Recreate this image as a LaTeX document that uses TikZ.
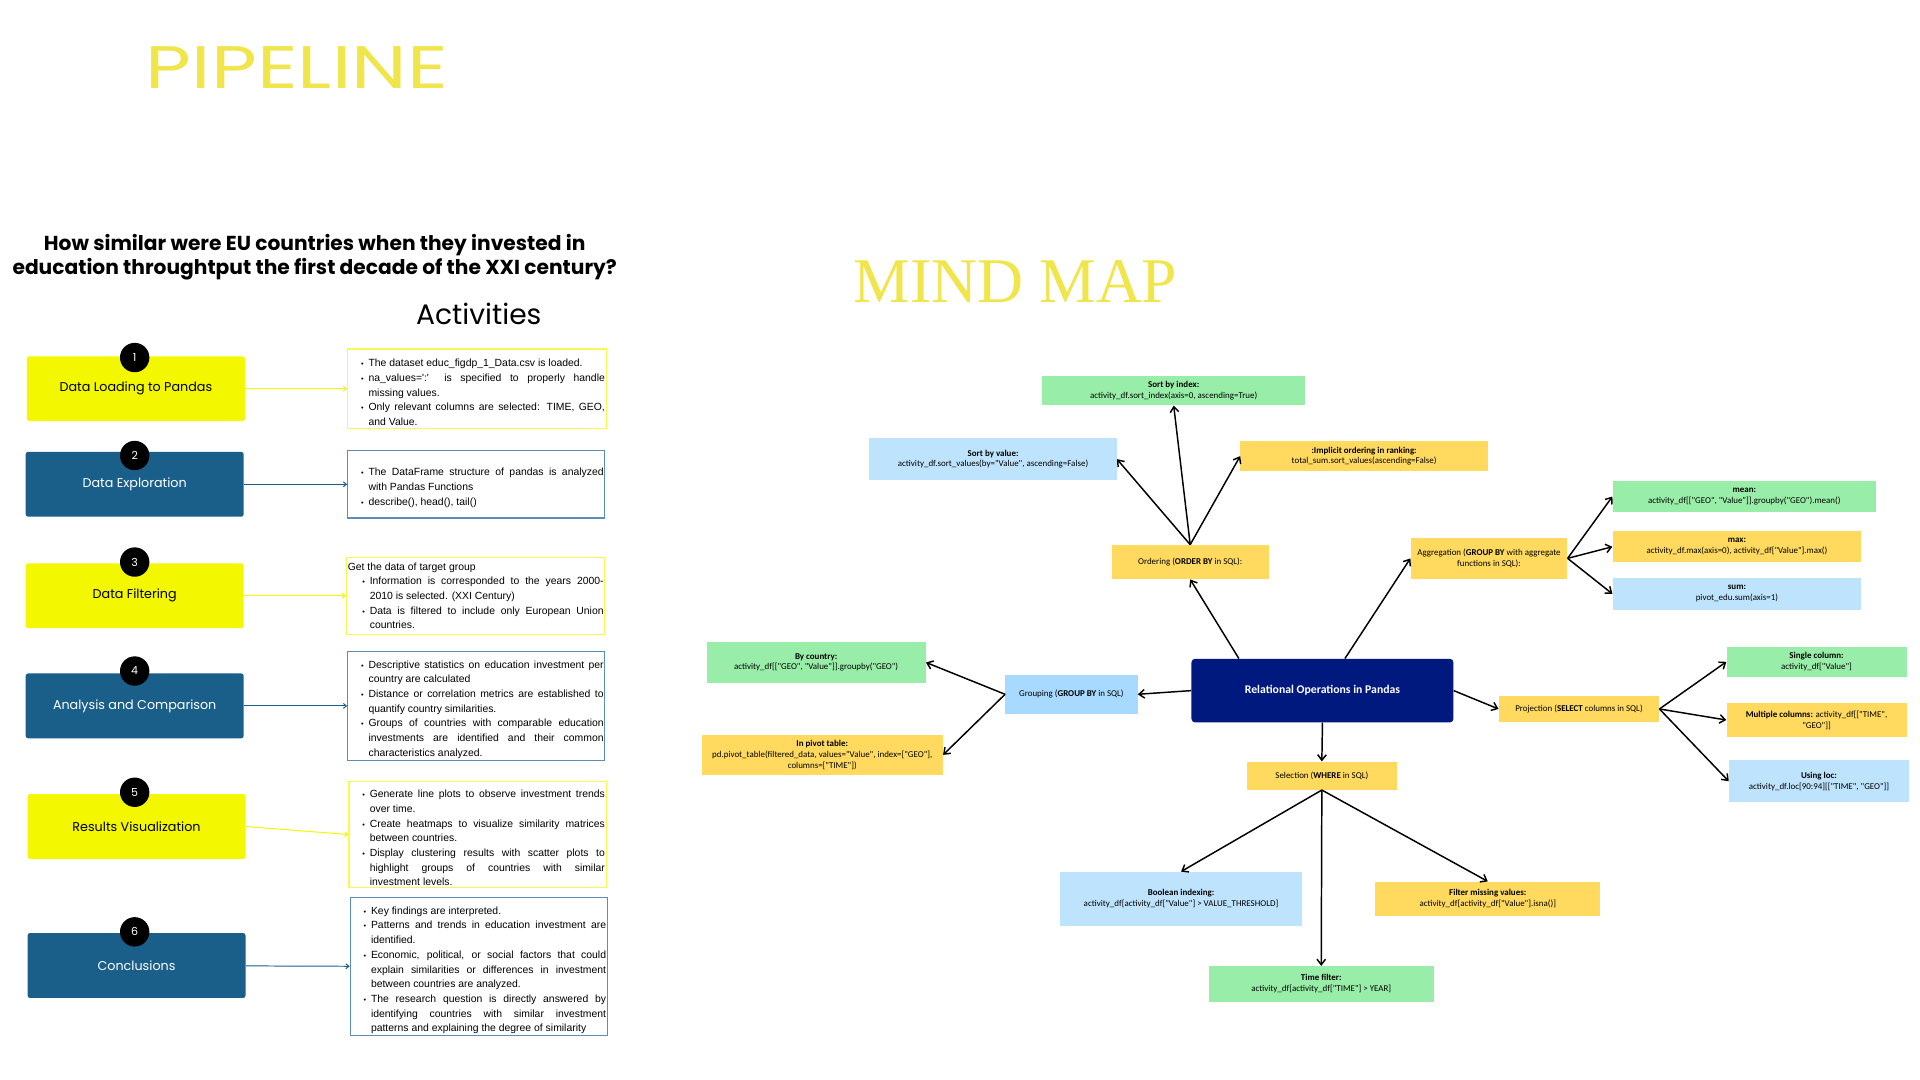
\documentclass[tikz,border=0pt]{standalone}
\usepackage{fontspec}
\setmainfont{Liberation Sans}
\newfontfamily\popfont{Poppins}
\newfontfamily\mapfont{Carlito}
\newfontfamily\headfont{Liberation Serif}
\usetikzlibrary{arrows.meta}
\definecolor{stepyel}{HTML}{F3F700}
\definecolor{stepblu}{HTML}{1A5F8A}
\definecolor{titleyel}{HTML}{F0E54A}
\definecolor{descyel}{HTML}{F8F850}
\definecolor{descblu}{HTML}{5A8DB8}
\definecolor{mapgreen}{HTML}{98EEA8}
\definecolor{mapblue}{HTML}{BEE3FC}
\definecolor{grpblue}{HTML}{A8D9FF}
\definecolor{mapyel}{HTML}{FFDA5E}
\definecolor{relnavy}{HTML}{00197F}
\newcommand{\itm}{\par\hangindent=6pt\hangafter=1\noindent\makebox[6pt][l]{\fontsize{6}{6}\selectfont\textbullet}}

\begin{document}
\begin{tikzpicture}[x=1pt, y=-1pt, >={Straight Barb[length=4.5pt,width=7pt]},
	stepyellow/.style={fill=stepyel, rounded corners=2pt, minimum width=178pt, minimum height=53pt, font=\popfont\fontsize{10.4}{12}\selectfont},
	stepblue/.style={fill=stepblu, text=white, rounded corners=2pt, minimum width=178pt, minimum height=53pt, font=\popfont\fontsize{10.4}{12}\selectfont},
	numdot/.style={circle, fill=black, text=white, minimum size=24pt, inner sep=0pt, font=\popfont\fontsize{9}{9}\selectfont},
	descyellow/.style={draw=descyel, line width=0.9pt, inner xsep=1pt, inner ysep=0pt, align=justify, font=\fontsize{8.5}{12}\selectfont},
	descblue/.style={draw=descblu, line width=0.9pt, inner xsep=1pt, inner ysep=0pt, align=justify, font=\fontsize{8.5}{12}\selectfont},
	pipeyel/.style={-{Straight Barb[length=2.5pt,width=4pt]}, draw=stepyel, line width=0.8pt},
	pipeblu/.style={-{Straight Barb[length=2.5pt,width=4pt]}, draw=stepblu, line width=0.8pt},
	mapbox/.style={inner sep=0pt, align=center, font=\mapfont\fontsize{7.3}{8.8}\selectfont},
	mapgreen/.style={mapbox, fill=mapgreen},
	mapblue/.style={mapbox, fill=mapblue},
	mapyellow/.style={mapbox, fill=mapyel},
	maparrow/.style={->, line width=1.2pt}]
	\fill[white] (0,0) rectangle (1568,882);
	
	\node[anchor=base west, inner sep=0pt, text=titleyel, font=\popfont\fontsize{49}{49}\selectfont] (pipe) at (119,72) {\scalebox{1.32}[1]{PIPELINE}};
	\node[anchor=base west, inner sep=0pt, text=titleyel, font=\headfont\fontsize{52}{52}\selectfont] (mind) at (697,247) {MIND MAP};
	\node[align=center, font=\popfont\bfseries\fontsize{16.5}{19.5}\selectfont] (quest) at (257,210) {How similar were EU countries when they invested in\\education throughtput the first decade of the XXI century?};
	\node[anchor=base, inner sep=0pt, font=\popfont\fontsize{23}{23}\selectfont] (act) at (391,265) {Activities};
	
	\node[stepyellow] (s1) at (111,317.5) {Data Loading to Pandas};
	\node[numdot] (n1) at (110,292) {1};
	\node[stepblue] (s2) at (110,395.5) {Data Exploration};
	\node[numdot] (n2) at (110,372) {2};
	\node[stepyellow] (s3) at (110,486.5) {Data Filtering};
	\node[numdot] (n3) at (110,459) {3};
	\node[stepblue] (s4) at (110,576.5) {Analysis and Comparison};
	\node[numdot] (n4) at (110,548) {4};
	\node[stepyellow] (s5) at (111.5,675) {Results Visualization};
	\node[numdot] (n5) at (110,647) {5};
	\node[stepblue] (s6) at (111.5,788.5) {Conclusions};
	\node[numdot] (n6) at (110,761) {6};
	
	\node[descyellow, text width=209pt, minimum height=65pt] (d1) at (389.5,317.5) {\leftskip=10pt
		\itm The dataset educ\_figdp\_1\_Data.csv is loaded.
		\itm na\_values=\textquotesingle:\textquotesingle{} is specified to properly handle\linebreak missing values.
		\itm Only relevant columns are selected: TIME, GEO,\linebreak and Value.\par};
	\node[descblue, text width=208pt, minimum height=55pt] (d2) at (389,395.5) {\leftskip=10pt
		\itm The DataFrame structure of pandas is analyzed\linebreak with Pandas Functions
		\itm describe(), head(), tail()\par};
	\node[descyellow, text width=209pt, minimum height=63pt] (d3) at (388.5,486.5) {\noindent Get the data of target group\par\leftskip=12pt
		\itm Information is corresponded to the years 2000-\linebreak 2010 is selected. (XXI Century)
		\itm Data is filtered to include only European Union\linebreak countries.\par};
	\node[descblue, text width=208pt, minimum height=89pt] (d4) at (389,576.5) {\leftskip=10pt
		\itm Descriptive statistics on education investment per\linebreak country are calculated
		\itm Distance or correlation metrics are established to\linebreak quantify country similarities.
		\itm Groups of countries with comparable education\linebreak investments are identified and their common\linebreak characteristics analyzed.\par};
	\node[descyellow, text width=208pt, minimum height=87pt] (d5) at (390,681.5) {\leftskip=10pt
		\itm Generate line plots to observe investment trends\linebreak over time.
		\itm Create heatmaps to visualize similarity matrices\linebreak between countries.
		\itm Display clustering results with scatter plots to\linebreak highlight groups of countries with similar\linebreak investment levels.\par};
	\node[descblue, text width=208pt, minimum height=113pt] (d6) at (391,789.5) {\leftskip=10pt
		\itm Key findings are interpreted.
		\itm Patterns and trends in education investment are\linebreak identified.
		\itm Economic, political, or social factors that could\linebreak explain similarities or differences in investment\linebreak between countries are analyzed.
		\itm The research question is directly answered by\linebreak identifying countries with similar investment\linebreak patterns and explaining the degree of similarity\par};
	
	\draw[pipeyel] (s1) -- (d1);
	\draw[pipeblu] (s2) -- (d2);
	\draw[pipeyel] (s3) -- (d3);
	\draw[pipeblu] (s4) -- (d4);
	\draw[pipeyel] (s5.east) -- (d5.west);
	\draw[pipeblu] (s6) -- (d6);
	
	\node[mapbox, fill=relnavy, text=white, rounded corners=3pt, minimum width=214pt, minimum height=52pt, font=\mapfont\bfseries\fontsize{9.6}{11}\selectfont] (rel) at (1080,564) {Relational Operations in Pandas};
	
	\node[mapyellow, minimum width=128pt, minimum height=28pt] (ord) at (972,459) {Ordering (\textbf{ORDER BY} in SQL):};
	\node[mapgreen, minimum width=215pt, minimum height=24pt] (sortidx) at (958.5,319) {\textbf{Sort by index:}\\activity\_df.sort\_index(axis=0, ascending=True)};
	\node[mapblue, minimum width=202pt, minimum height=34pt] (sortval) at (811,375) {\textbf{Sort by value:}\\activity\_df.sort\_values(by="Value", ascending=False)};
	\node[mapyellow, minimum width=202pt, minimum height=25pt] (impl) at (1114,372.5) {\textbf{:Implicit ordering in ranking:}\\total\_sum.sort\_values(ascending=False)};
	
	\node[mapyellow, minimum width=128pt, minimum height=34pt] (agg) at (1216,456) {Aggregation (\textbf{GROUP BY} with aggregate\\functions in SQL):};
	\node[mapgreen, minimum width=215pt, minimum height=25pt] (mean) at (1424.5,405.5) {\textbf{mean:}\\activity\_df[["GEO", "Value"]].groupby("GEO").mean()};
	\node[mapyellow, minimum width=203pt, minimum height=25pt] (max) at (1418.5,446.5) {\textbf{max:}\\activity\_df.max(axis=0), activity\_df["Value"].max()};
	\node[mapblue, minimum width=203pt, minimum height=26pt] (sum) at (1418.5,485) {\textbf{sum:}\\pivot\_edu.sum(axis=1)};
	
	\node[mapbox, fill=grpblue, minimum width=108pt, minimum height=32pt] (grp) at (875,567) {Grouping (\textbf{GROUP BY} in SQL)};
	\node[mapgreen, minimum width=179pt, minimum height=34pt] (bycountry) at (666.5,541) {\textbf{By country:}\\activity\_df[["GEO", "Value"]].groupby("GEO")};
	\node[mapyellow, minimum width=197pt, minimum height=33pt] (pivot) at (671.5,616.5) {\textbf{In pivot table:}\\pd.pivot\_table(filtered\_data, values="Value", index=["GEO"],\\columns=["TIME"])};
	
	\node[mapyellow, minimum width=131pt, minimum height=22pt] (proj) at (1289.5,579) {Projection (\textbf{SELECT} columns in SQL)};
	\node[mapgreen, minimum width=147pt, minimum height=25pt] (single) at (1483.5,540.5) {\textbf{Single column:}\\activity\_df["Value"]};
	\node[mapyellow, minimum width=147pt, minimum height=28pt] (multi) at (1483.5,588) {\textbf{Multiple columns:} activity\_df[["TIME",\\"GEO"]]};
	\node[mapblue, minimum width=147pt, minimum height=34pt] (loc) at (1485.5,638) {\textbf{Using loc:}\\activity\_df.loc[90:94][["TIME", "GEO"]]};
	
	\node[mapyellow, minimum width=123pt, minimum height=23pt] (sel) at (1079.5,633.5) {Selection (\textbf{WHERE} in SQL)};
	\node[mapblue, minimum width=197pt, minimum height=44pt] (bool) at (964.5,734) {\textbf{Boolean indexing:}\\activity\_df[activity\_df["Value"] > VALUE\_THRESHOLD]};
	\node[mapyellow, minimum width=184pt, minimum height=28pt] (missing) at (1215,734) {\textbf{Filter missing values:}\\activity\_df[activity\_df["Value"].isna()]};
	\node[mapgreen, minimum width=184pt, minimum height=29pt] (time) at (1079,803.5) {\textbf{Time filter:}\\activity\_df[activity\_df["TIME"] > YEAR]};
	
	\draw[maparrow] (rel.159) -- (ord.south);
	\draw[maparrow] (ord.north) -- (sortidx.south);
	\draw[maparrow] (ord.north) -- (sortval.east);
	\draw[maparrow] (ord.north) -- (impl.west);
	\draw[maparrow] (rel.55) -- (agg.west);
	\draw[maparrow] (agg.east) -- (mean.west);
	\draw[maparrow] (agg.east) -- (max.west);
	\draw[maparrow] (agg.east) -- (sum.west);
	\draw[maparrow] (rel.west) -- (grp.east);
	\draw[maparrow] (grp.west) -- (bycountry.east);
	\draw[maparrow] (grp.west) -- (pivot.east);
	\draw[maparrow] (rel.east) -- (proj.west);
	\draw[maparrow] (proj.east) -- (single.west);
	\draw[maparrow] (proj.east) -- (multi.west);
	\draw[maparrow] (proj.east) -- (loc.west);
	\draw[maparrow] (rel.south) -- (sel.north);
	\draw[maparrow] (sel.south) -- (bool.north);
	\draw[maparrow] (sel.south) -- (time.north);
	\draw[maparrow] (sel.south) -- (missing.north);
\end{tikzpicture}
\end{document}
